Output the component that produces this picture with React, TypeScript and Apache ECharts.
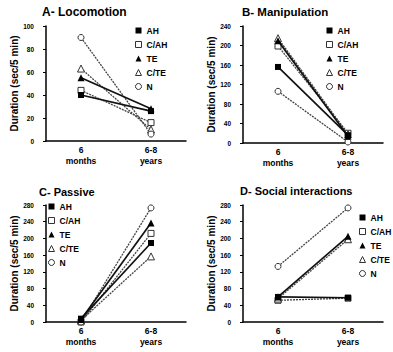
import React, { useEffect, useRef } from 'react';
import * as echarts from 'echarts';

const categories = ['6\nmonths', '6-8\nyears'];
const groups = ['AH', 'C/AH', 'TE', 'C/TE', 'N'];
const panelTitles = ['A- Locomotion', 'B- Manipulation', 'C- Passive', 'D- Social interactions'];
const yAxisName = 'Duration (sec/5 min)';
const yMax = [100, 240, 280, 280];
const yStep = [20, 40, 40, 40];

// values per group (AH, C/AH, TE, C/TE, N): [6 months, 6-8 years]
const locomotion = [[40, 26], [44, 16], [55, 28], [63, 10], [90, 6]];
const manipulation = [[156, 16], [199, 20], [210, 14], [215, 18], [106, 2]];
const passive = [[8, 189], [0, 212], [6, 237], [4, 157], [0, 273]];
const social = [[60, 58], [52, 57], [60, 205], [56, 198], [133, 273]];
const panels = [locomotion, manipulation, passive, social];

const FONT = '"Liberation Sans", Arial, sans-serif';

const grids = [
  { left: 46, top: 26, width: 140, height: 115 },
  { left: 243, top: 26, width: 140, height: 117 },
  { left: 46, top: 205, width: 140, height: 117 },
  { left: 243, top: 205, width: 140, height: 117 },
];
const titlePos = [
  { left: 42, top: 6, size: 12 },
  { left: 242, top: 6, size: 11.5 },
  { left: 39, top: 186, size: 11 },
  { left: 240, top: 185, size: 11 },
];
const legendPos = [
  { left: 135, top: 26 },
  { left: 326, top: 26 },
  { left: 48, top: 202 },
  { left: 359, top: 213 },
];

const symbolOf = ['rect', 'rect', 'triangle', 'triangle', 'circle'];
const filled = [true, false, true, false, false];
const solid = [true, false, true, false, false];
const symbolSizes = [6, 6, 7, 7, 6];

export default function App() {
  const ref = useRef<HTMLDivElement>(null);
  useEffect(() => {
    if (!ref.current) return;
    const chart = echarts.init(ref.current, undefined, { renderer: 'svg' });
    const itemStyleOf = (g: number) =>
      filled[g]
        ? { color: '#000', borderColor: '#000', borderWidth: 0 }
        : { color: '#fff', borderColor: '#333', borderWidth: 1 };
    const series: any[] = [];
    panels.forEach((vals, p) => {
      vals.forEach((v, g) => {
        series.push({
          type: 'line',
          name: groups[g],
          xAxisIndex: p,
          yAxisIndex: p,
          data: v,
          symbol: symbolOf[g],
          symbolSize: symbolSizes[g],
          showAllSymbol: true,
          itemStyle: itemStyleOf(g),
          lineStyle: solid[g]
            ? { color: '#111', width: 1.7, type: 'solid' }
            : { color: '#444', width: 1.3, type: [2, 1] },
          z: solid[g] ? 3 : 2,
          emphasis: { disabled: true },
        });
      });
    });
    const option: any = {
      animation: false,
      backgroundColor: '#fff',
      textStyle: { fontFamily: FONT },
      title: panelTitles.map((t, i) => ({
        text: t,
        left: titlePos[i].left,
        top: titlePos[i].top,
        padding: 0,
        textStyle: { fontFamily: FONT, fontSize: titlePos[i].size, fontWeight: 'bold', color: '#000' },
      })),
      legend: legendPos.map((lp) => ({
        orient: 'vertical',
        left: lp.left,
        top: lp.top,
        padding: 0,
        itemWidth: 6,
        itemHeight: 6,
        itemGap: 5,
        selectedMode: false,
        textStyle: { fontFamily: FONT, fontSize: 8.5, fontWeight: 'bold', color: '#000' },
        data: groups.map((name, g) => ({
          name,
          icon: symbolOf[g],
          itemStyle: itemStyleOf(g),
        })),
      })),
      grid: grids.map((gr) => ({ ...gr, containLabel: false })),
      xAxis: grids.map((_, i) => ({
        type: 'category',
        gridIndex: i,
        data: categories,
        boundaryGap: true,
        axisLine: { lineStyle: { color: '#000', width: 1.5 } },
        axisTick: { show: false },
        axisLabel: {
          fontFamily: FONT,
          fontSize: 8.5,
          fontWeight: 'bold',
          color: '#000',
          lineHeight: 11,
          margin: 3,
        },
        splitLine: { show: false },
      })),
      yAxis: grids.map((_, i) => ({
        type: 'value',
        gridIndex: i,
        min: 0,
        max: yMax[i],
        interval: yStep[i],
        name: yAxisName,
        nameLocation: 'middle',
        nameRotate: 90,
        nameGap: 18,
        nameTextStyle: { fontFamily: FONT, fontSize: 10, fontWeight: 'bold', color: '#000' },
        axisLine: { show: true, lineStyle: { color: '#000', width: 1.5 } },
        axisTick: { show: true, length: 3, lineStyle: { color: '#000' } },
        axisLabel: { fontFamily: FONT, fontSize: 6.5, fontWeight: 'bold', color: '#000', margin: 12 },
        splitLine: { show: false },
      })),
      series,
    };
    chart.setOption(option);
    return () => chart.dispose();
  }, []);
  return (
    <div
      ref={ref}
      style={{ position: 'fixed', left: 0, top: 0, width: 393, height: 352, background: '#fff' }}
    />
  );
}
